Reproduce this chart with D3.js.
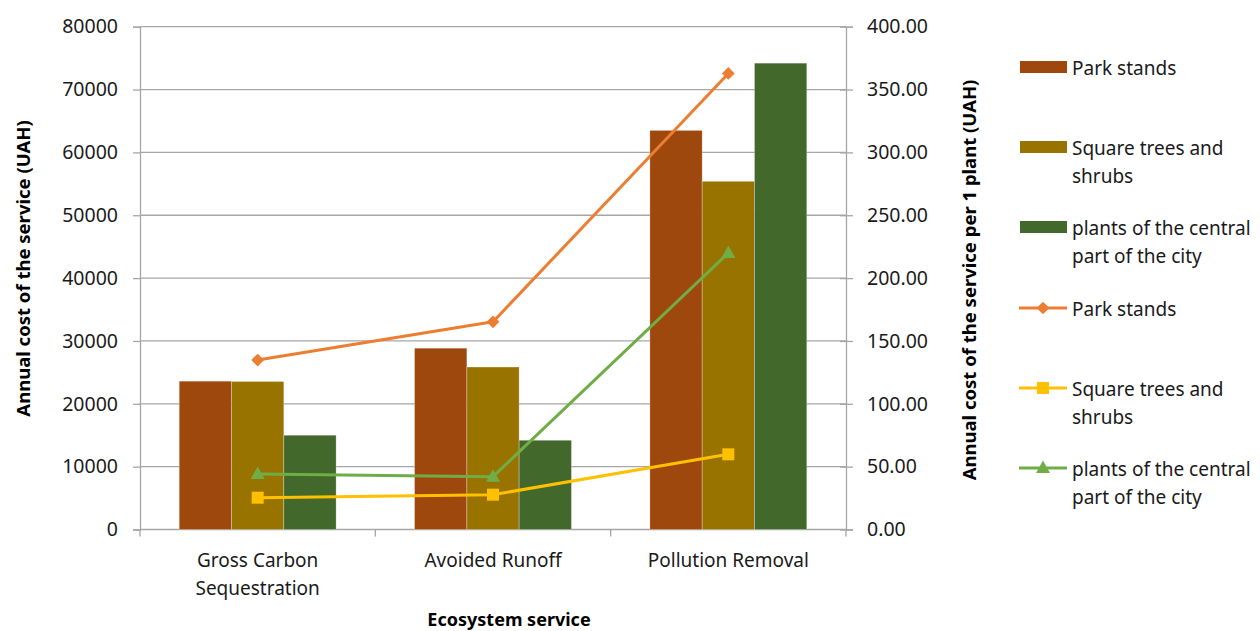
<!DOCTYPE html>
<html>
<head>
<meta charset="utf-8">
<script src="https://cdn.jsdelivr.net/npm/d3@7"></script>
<style>
  html, body { margin: 0; padding: 0; background: #fff; }
  svg { display: block; font-family: "Noto Sans", "Open Sans", sans-serif; }
</style>
</head>
<body>
<svg id="chart" width="1260" height="631"></svg>
<script>
// Ecosystem services and their annual cost
const categories = [["Gross Carbon", "Sequestration"], ["Avoided Runoff"], ["Pollution Removal"]];
const categoryKeys = ["Gross Carbon Sequestration", "Avoided Runoff", "Pollution Removal"];

// Annual cost of the service, UAH (bars, left axis)
const barSeriesNames = ["Park stands", "Square trees and shrubs", "plants of the central part of the city"];
const barParkStands = [23600, 28850, 63500];
const barSquareTrees = [23550, 25850, 55400];
const barCentralCity = [15000, 14200, 74200];

// Annual cost of the service per 1 plant, UAH (lines, right axis)
const lineParkStands = [134.8, 165.2, 362.8];
const lineSquareTrees = [25.3, 27.7, 59.8];
const lineCentralCity = [44.1, 42.0, 220.0];

const leftTicks = [0, 10000, 20000, 30000, 40000, 50000, 60000, 70000, 80000];
const rightTicks = [0, 50, 100, 150, 200, 250, 300, 350, 400];

const barColors = ["#9E480E", "#997300", "#43682B"];
const lineColors = ["#ED7D31", "#FFC000", "#70AD47"];
const markerTypes = ["diamond", "square", "triangle"];

const svg = d3.select("#chart");
const plot = { left: 140, right: 846, top: 26.7, bottom: 529.5 };

const x0 = d3.scaleBand().domain(categoryKeys).range([plot.left, plot.right]).paddingInner(0).paddingOuter(0);
// gap between groups = 1.5 bar widths
const x1 = d3.scaleBand().domain(d3.range(3)).range([0, x0.bandwidth()]).paddingInner(0).paddingOuter(0.75);
const yL = d3.scaleLinear().domain([0, 80000]).range([plot.bottom, plot.top]);
const yR = d3.scaleLinear().domain([0, 400]).range([plot.bottom, plot.top]);

const gridColor = "#a6a6a6";

// horizontal gridlines
svg.append("g").selectAll("line").data(leftTicks).join("line")
  .attr("x1", plot.left).attr("x2", plot.right)
  .attr("y1", d => yL(d)).attr("y2", d => yL(d))
  .attr("stroke", gridColor).attr("stroke-width", 1.3);

// left axis
const leftAxis = svg.append("g").attr("transform", `translate(${plot.left},0)`)
  .call(d3.axisLeft(yL).tickValues(leftTicks).tickFormat(d3.format("d")).tickSize(7).tickPadding(15));
leftAxis.select(".domain").attr("stroke", gridColor).attr("stroke-width", 1.3);
leftAxis.selectAll(".tick line").attr("stroke", gridColor).attr("stroke-width", 1.3);
leftAxis.selectAll("text").attr("font-size", 19.5).attr("fill", "#1a1a1a")
  .attr("font-family", "'Noto Sans', sans-serif");

// right axis (ticks cross the axis line)
const rightAxis = svg.append("g").attr("transform", `translate(${plot.right},0)`)
  .call(d3.axisRight(yR).tickValues(rightTicks).tickFormat(d3.format(".2f")).tickSize(7).tickPadding(14));
rightAxis.select(".domain").attr("stroke", gridColor).attr("stroke-width", 1.3);
rightAxis.selectAll(".tick line").attr("x1", -6).attr("stroke", gridColor).attr("stroke-width", 1.3);
rightAxis.selectAll("text").attr("font-size", 19.5).attr("fill", "#1a1a1a")
  .attr("font-family", "'Noto Sans', sans-serif");

// category boundary ticks under the baseline
const boundaries = categoryKeys.map(k => x0(k)).concat([plot.right]);
svg.append("g").selectAll("line").data(boundaries).join("line")
  .attr("x1", d => d).attr("x2", d => d)
  .attr("y1", plot.bottom).attr("y2", plot.bottom + 7)
  .attr("stroke", gridColor).attr("stroke-width", 1.3);

// bars
const barData = [barParkStands, barSquareTrees, barCentralCity];
const groups = svg.append("g").selectAll("g").data(categoryKeys).join("g")
  .attr("transform", d => `translate(${x0(d)},0)`);
groups.selectAll("rect").data((d, i) => barData.map((s, si) => ({ s: si, v: s[i] }))).join("rect")
  .attr("x", d => x1(d.s))
  .attr("width", x1.bandwidth())
  .attr("y", d => yL(d.v))
  .attr("height", d => yL(0) - yL(d.v))
  .attr("fill", d => barColors[d.s])
  .attr("stroke", "rgba(255,255,255,0.35)").attr("stroke-width", 0.8);

// markers: diamond is a square turned 45 degrees
function marker(sel, type, color) {
  if (type === "diamond") {
    sel.append("rect").attr("x", -4.5).attr("y", -4.5).attr("width", 9).attr("height", 9)
      .attr("transform", "rotate(45)").attr("fill", color);
  } else if (type === "square") {
    sel.append("rect").attr("x", -6).attr("y", -6).attr("width", 12).attr("height", 12).attr("fill", color);
  } else {
    sel.append("path").attr("d", "M0,-7.5L7,5L-7,5Z").attr("fill", color);
  }
}

// lines
const lineData = [lineParkStands, lineSquareTrees, lineCentralCity];
const cx = k => x0(k) + x0.bandwidth() / 2;
const lineGen = d3.line().x(d => d[0]).y(d => d[1]);
lineData.forEach((vals, si) => {
  const pts = vals.map((v, i) => [cx(categoryKeys[i]), yR(v)]);
  svg.append("path").attr("d", lineGen(pts)).attr("fill", "none")
    .attr("stroke", lineColors[si]).attr("stroke-width", 3).attr("stroke-linejoin", "round");
  pts.forEach(p => {
    const g = svg.append("g").attr("transform", `translate(${p[0]},${p[1]})`);
    marker(g, markerTypes[si], lineColors[si]);
  });
});

// category labels
categories.forEach((lines, i) => {
  const t = svg.append("text").attr("x", cx(categoryKeys[i])).attr("y", 567)
    .attr("text-anchor", "middle").attr("font-size", 19).attr("fill", "#1a1a1a");
  lines.forEach((ln, j) => t.append("tspan").attr("x", cx(categoryKeys[i])).attr("dy", j === 0 ? 0 : 28).text(ln));
});

// axis titles
svg.append("text").attr("x", 509).attr("y", 626).attr("text-anchor", "middle")
  .attr("font-size", 18).attr("font-weight", "bold").attr("fill", "#000").text("Ecosystem service");
svg.append("text").attr("transform", "translate(30,268.5) rotate(-90)").attr("text-anchor", "middle")
  .attr("font-size", 18.5).attr("font-weight", "bold").attr("fill", "#000").text("Annual cost of the service (UAH)");
svg.append("text").attr("transform", "translate(976,280) rotate(-90)").attr("text-anchor", "middle")
  .attr("font-size", 18.5).attr("font-weight", "bold").attr("fill", "#000").text("Annual cost of the service per 1 plant (UAH)");

// legend
const legendLabels = [["Park stands"], ["Square trees and", "shrubs"], ["plants of the central", "part of the city"]];
const legendY = [67, 147, 227, 308, 388, 468];
const legend = svg.append("g");
for (let k = 0; k < 6; k++) {
  const si = k % 3;
  const y = legendY[k];
  if (k < 3) {
    legend.append("rect").attr("x", 1020).attr("y", y - 6).attr("width", 47).attr("height", 12).attr("fill", barColors[si]);
  } else {
    legend.append("line").attr("x1", 1019).attr("x2", 1067).attr("y1", y).attr("y2", y)
      .attr("stroke", lineColors[si]).attr("stroke-width", 3);
    const g = legend.append("g").attr("transform", `translate(1043,${y})`);
    marker(g, markerTypes[si], lineColors[si]);
  }
  const t = legend.append("text").attr("x", 1072).attr("y", y + 7.5).attr("font-size", 19).attr("fill", "#1a1a1a");
  legendLabels[si].forEach((ln, j) => t.append("tspan").attr("x", 1072).attr("dy", j === 0 ? 0 : 28).text(ln));
}
</script>
</body>
</html>
